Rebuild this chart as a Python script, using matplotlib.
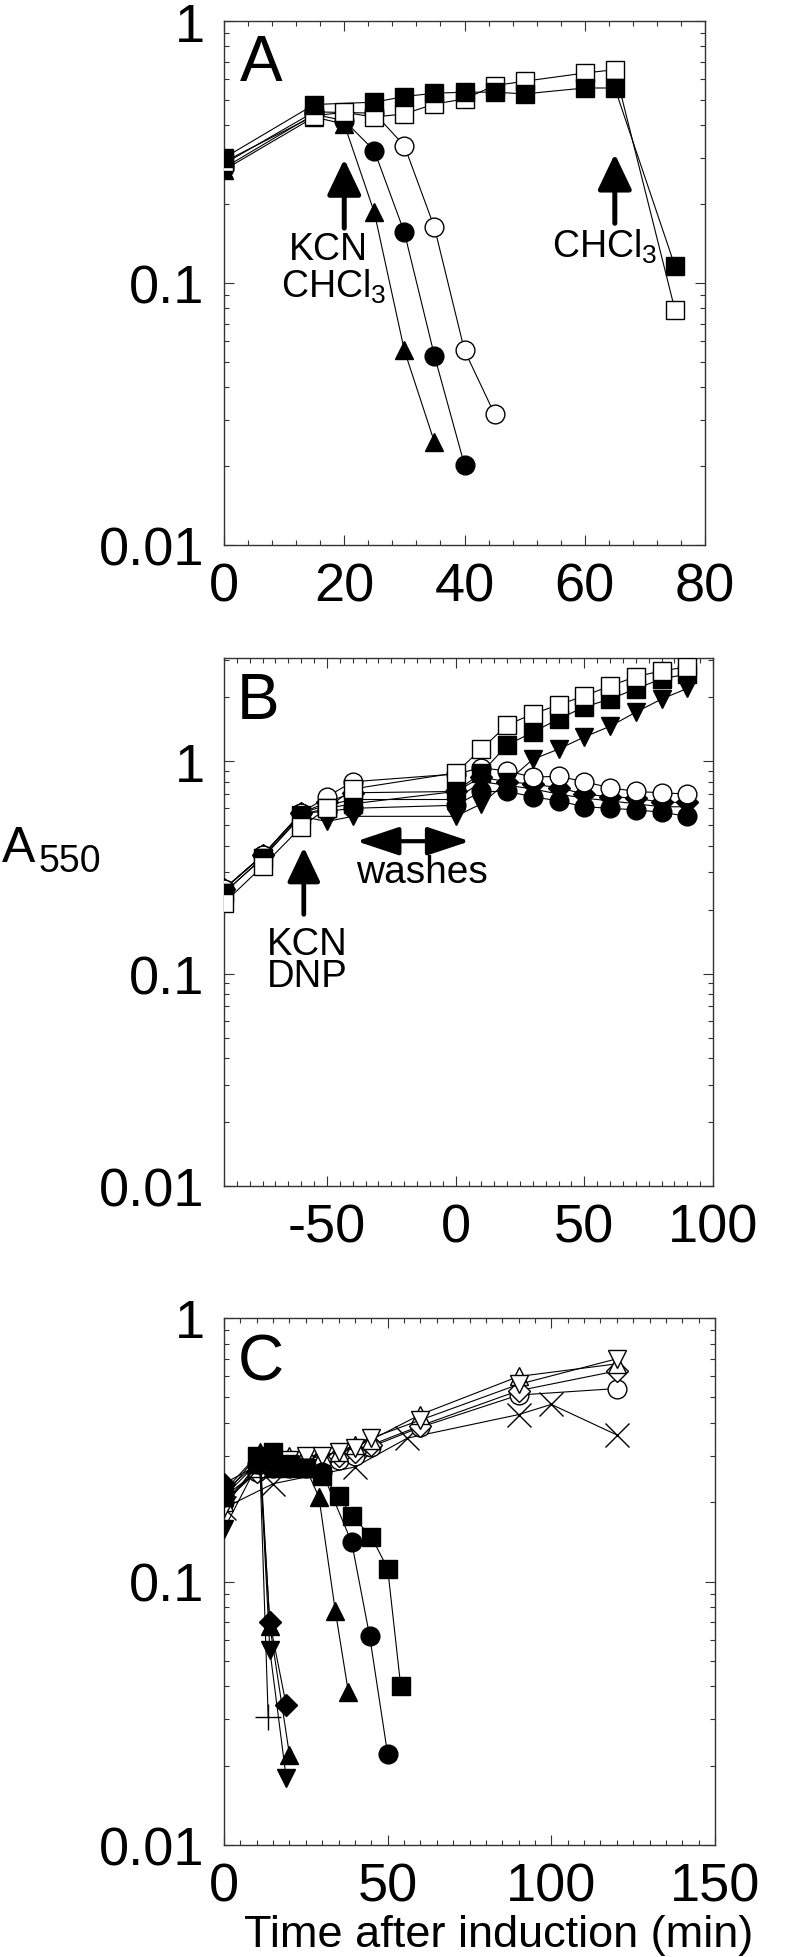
import matplotlib
matplotlib.use('Agg')
import matplotlib.pyplot as plt
from matplotlib.ticker import LogLocator, MultipleLocator, FixedLocator, FixedFormatter, NullFormatter

plt.rcParams['font.family'] = ['Liberation Sans', 'DejaVu Sans']
plt.rcParams['mathtext.fontset'] = 'custom'
plt.rcParams['mathtext.rm'] = 'Liberation Sans'
plt.rcParams['mathtext.it'] = 'Liberation Sans:italic'
plt.rcParams['axes.unicode_minus'] = False

# ---------------- Panel A ----------------
a_t_sq_filled = [0, 15, 25, 30, 35, 40, 45, 50, 60, 65, 75]
a_sq_filled = [0.30, 0.48, 0.49, 0.515, 0.53, 0.535, 0.535, 0.527, 0.555, 0.555, 0.116]
a_t_sq_open = [0, 15, 20, 25, 30, 35, 40, 45, 50, 60, 65, 75]
a_sq_open = [0.29, 0.435, 0.448, 0.43, 0.442, 0.482, 0.504, 0.567, 0.589, 0.633, 0.652, 0.079]
a_t_circ_filled = [0, 15, 20, 25, 30, 35, 40]
a_circ_filled = [0.275, 0.44, 0.417, 0.32, 0.156, 0.0528, 0.0202]
a_t_circ_open = [0, 15, 25, 30, 35, 40, 45]
a_circ_open = [0.285, 0.45, 0.445, 0.334, 0.163, 0.0553, 0.0316]
a_t_tri = [0, 15, 20, 25, 30, 35]
a_tri = [0.27, 0.43, 0.404, 0.186, 0.0553, 0.0247]

# ---------------- Panel B ----------------
b_t = [-90, -75, -60, -50, -40, 0, 10, 20, 30, 40, 50, 60, 70, 80, 90]
b_sq_open = [0.215, 0.32, 0.49, 0.60, 0.74, 0.88, 1.14, 1.48, 1.67, 1.84, 2.03, 2.26, 2.50, 2.66, 2.78]
b_sq_filled = [0.24, 0.35, 0.56, 0.60, 0.63, 0.72, 0.88, 1.19, 1.37, 1.58, 1.80, 1.96, 2.19, 2.44, 2.57]
b_tri_down = [0.24, 0.35, 0.55, 0.52, 0.55, 0.55, 0.63, 0.80, 1.02, 1.14, 1.30, 1.46, 1.70, 1.96, 2.20]
b_circ_open = [0.25, 0.36, 0.57, 0.68, 0.80, 0.87, 0.93, 0.90, 0.84, 0.85, 0.80, 0.75, 0.72, 0.71, 0.70]
b_diamond = [0.25, 0.36, 0.57, 0.64, 0.71, 0.72, 0.84, 0.80, 0.78, 0.75, 0.70, 0.68, 0.67, 0.64, 0.64]
b_tri_up = [0.25, 0.36, 0.57, 0.62, 0.66, 0.66, 0.80, 0.77, 0.74, 0.70, 0.67, 0.65, 0.63, 0.61, 0.61]
b_circ_filled = [0.25, 0.36, 0.57, 0.58, 0.60, 0.62, 0.72, 0.72, 0.68, 0.65, 0.61, 0.60, 0.59, 0.575, 0.55]

# ---------------- Panel C ----------------
c_t_open = [0, 10, 15, 20, 25, 30, 35, 40, 45, 60, 90, 120]
c_tri_down_open = [0.19, 0.28, 0.29, 0.29, 0.30, 0.30, 0.31, 0.32, 0.35, 0.41, 0.56, 0.70]
c_tri_up_open = [0.20, 0.27, 0.28, 0.30, 0.29, 0.30, 0.31, 0.33, 0.345, 0.43, 0.60, 0.67]
c_diam_open = [0.21, 0.26, 0.28, 0.28, 0.29, 0.29, 0.30, 0.31, 0.33, 0.39, 0.53, 0.63]
c_circ_open = [0.20, 0.26, 0.27, 0.28, 0.28, 0.29, 0.29, 0.30, 0.325, 0.385, 0.51, 0.54]
c_t_cross = [0, 15, 40, 56, 90, 100, 120]
c_cross = [0.19, 0.235, 0.272, 0.35, 0.43, 0.47, 0.36]
c_t_sq = [0, 10, 15, 20, 25, 30, 35, 39, 45, 50, 54]
c_sq = [0.22, 0.30, 0.31, 0.28, 0.27, 0.252, 0.212, 0.178, 0.148, 0.112, 0.040]
c_t_circ = [0, 10, 15, 20, 25, 30, 39, 44.5, 50]
c_circ = [0.21, 0.28, 0.28, 0.27, 0.27, 0.26, 0.141, 0.062, 0.0221]
c_t_tri = [0, 10, 15, 20, 25, 29, 34, 38]
c_tri = [0.22, 0.28, 0.27, 0.27, 0.27, 0.209, 0.0775, 0.038]
c_t_fast = [0, 11, 14, 19]
c_diam_fast = [0.235, 0.28, 0.070, 0.034]
c_tridown_fast = [0.158, 0.29, 0.055, 0.018]
c_t_tri_fast = [0, 11, 14, 20]
c_tri_fast = [0.21, 0.31, 0.068, 0.022]
c_t_plus = [0, 11, 13.5]
c_plus = [0.20, 0.27, 0.0306]

ytick_vals = [0.01, 0.1, 1]
ytick_labels = ['0.01', '0.1', '1']

W, H = 792, 1958
fig = plt.figure(figsize=(W / 100, H / 100), dpi=100)
fig.patch.set_facecolor('white')


def px_axes(l, t, r, b):
    return fig.add_axes([l / W, 1 - b / H, (r - l) / W, (b - t) / H])


axA = px_axes(224, 22, 705, 546)
axB = px_axes(224, 659, 713, 1187)
axC = px_axes(224, 1319, 715, 1846)

MS = 13.5
LW = 0.8


def series(ax, x, y, marker, filled=True, ms=MS, lw=LW, z=3):
    kw = dict(color='black', lw=lw, marker=marker, ms=ms, zorder=z,
              mec='black', mew=1.0)
    if marker in ('+', 'x'):
        kw.update(mew=1.0, ms=ms * 1.05)
    elif filled:
        kw.update(mfc='black')
    else:
        kw.update(mfc='white')
    ax.plot(x, y, **kw)


def style_axis(ax, xlim, ylim, xminor, xticks):
    ax.set_yscale('log')
    ax.set_xlim(*xlim)
    ax.set_ylim(*ylim)
    ax.xaxis.set_major_locator(FixedLocator(xticks))
    ax.xaxis.set_minor_locator(MultipleLocator(xminor))
    ax.yaxis.set_major_locator(FixedLocator(ytick_vals))
    ax.yaxis.set_major_formatter(FixedFormatter(ytick_labels))
    ax.yaxis.set_minor_locator(LogLocator(base=10, subs=range(2, 10), numticks=20))
    ax.yaxis.set_minor_formatter(NullFormatter())
    ax.tick_params(which='both', direction='in', top=True, right=True,
                   width=0.8, color='#333333')
    ax.tick_params(which='major', length=7.5)
    ax.tick_params(which='minor', length=3.8)
    ax.tick_params(axis='x', which='major', labelsize=39, pad=12)
    ax.tick_params(axis='y', which='major', labelsize=39, pad=14)
    for s in ax.spines.values():
        s.set_linewidth(1.0)
        s.set_color('#333333')


# ---- Panel A ----
series(axA, a_t_tri, a_tri, '^')
series(axA, a_t_circ_open, a_circ_open, 'o', filled=False)
series(axA, a_t_circ_filled, a_circ_filled, 'o')
series(axA, a_t_sq_open, a_sq_open, 's', filled=False)
series(axA, a_t_sq_filled, a_sq_filled, 's', z=4)
style_axis(axA, (0, 80), (0.01, 1), 4, [0, 20, 40, 60, 80])
axA.set_xticklabels(['0', '20', '40', '60', '80'])

arrow_kw = dict(arrowstyle='-|>,head_length=0.42,head_width=0.2', lw=3.6,
                color='black', shrinkA=0, shrinkB=0, mutation_scale=52)
axA.annotate('', xy=(20, 0.297), xytext=(20, 0.162), arrowprops=arrow_kw)
axA.annotate('', xy=(65, 0.311), xytext=(65, 0.169), arrowprops=arrow_kw)
axA.text(10.8, 0.1235, 'KCN', fontsize=27, ha='left', va='baseline')
axA.text(9.4, 0.089, r'CHCl$_3$', fontsize=27, ha='left', va='baseline')
axA.text(54.5, 0.126, r'CHCl$_3$', fontsize=27, ha='left', va='baseline')
axA.text(0.033, 0.977, 'A', transform=axA.transAxes, fontsize=46,
         ha='left', va='top')

# ---- Panel B ----
series(axB, b_t, b_circ_filled, 'o')
series(axB, b_t, b_tri_up, '^')
series(axB, b_t, b_diamond, 'D', ms=MS * 0.8)
series(axB, b_t, b_circ_open, 'o', filled=False)
series(axB, b_t, b_tri_down, 'v')
series(axB, b_t, b_sq_filled, 's')
series(axB, b_t, b_sq_open, 's', filled=False)
style_axis(axB, (-90, 100), (0.01, 3.06), 5, [-50, 0, 50, 100])
axB.set_xticklabels(['-50', '0', '50', '100'])

arrowB = dict(arrowstyle='-|>,head_length=0.42,head_width=0.2', lw=3.4,
              color='black', shrinkA=0, shrinkB=0, mutation_scale=50)
axB.annotate('', xy=(-59, 0.393), xytext=(-59, 0.19), arrowprops=arrowB)
dbl = dict(arrowstyle='<|-|>,head_length=0.45,head_width=0.15', lw=3.0,
           color='black', shrinkA=0, shrinkB=0, mutation_scale=58)
axB.annotate('', xy=(5.5, 0.42), xytext=(-38.5, 0.42), arrowprops=dbl)
axB.text(-73.5, 0.167, 'KCN\nDNP', fontsize=27.5, ha='left', va='top',
         linespacing=0.85)
axB.text(-13.2, 0.269, 'washes', fontsize=28, ha='center', va='baseline')
axB.text(0.027, 0.975, 'B', transform=axB.transAxes, fontsize=46,
         ha='left', va='top')

# ---- Panel C ----
series(axC, c_t_cross, c_cross, 'x', ms=MS * 1.2)
series(axC, c_t_open, c_circ_open, 'o', filled=False)
series(axC, c_t_open, c_diam_open, 'D', filled=False, ms=MS * 0.8)
series(axC, c_t_open, c_tri_up_open, '^', filled=False)
series(axC, c_t_open, c_tri_down_open, 'v', filled=False)
series(axC, c_t_plus, c_plus, '+', ms=MS * 1.3)
series(axC, c_t_fast, c_tridown_fast, 'v')
series(axC, c_t_tri_fast, c_tri_fast, '^')
series(axC, c_t_fast, c_diam_fast, 'D', ms=MS * 0.8)
series(axC, c_t_tri, c_tri, '^')
series(axC, c_t_circ, c_circ, 'o')
series(axC, c_t_sq, c_sq, 's')
style_axis(axC, (0, 150), (0.01, 1), 5, [0, 50, 100, 150])
axC.set_xticklabels(['0', '50', '100', '150'])
axC.text(0.027, 0.972, 'C', transform=axC.transAxes, fontsize=46,
         ha='left', va='top')

# ---- shared labels ----
fig.text(2 / W, 1 - 862 / H, 'A', fontsize=36, ha='left', va='baseline')
fig.text(39 / W, 1 - 872 / H, '550', fontsize=27, ha='left', va='baseline')
fig.text(499 / W, 1 - 1947 / H, 'Time after induction (min)', fontsize=32.5,
         ha='center', va='baseline')

fig.savefig('out.png', dpi=100, facecolor='white')
